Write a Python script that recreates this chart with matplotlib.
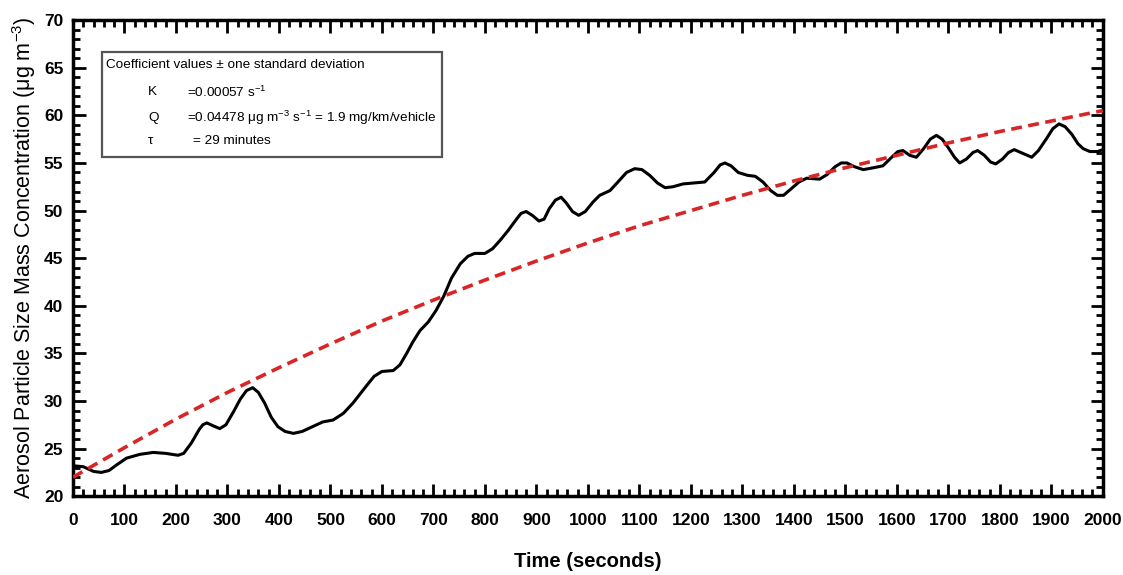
import matplotlib
matplotlib.use('Agg')
import matplotlib.pyplot as plt
from matplotlib.patches import Rectangle
from matplotlib.ticker import MultipleLocator

plt.rcParams['font.family'] = ['Liberation Sans', 'DejaVu Sans']
plt.rcParams['mathtext.fontset'] = 'custom'
plt.rcParams['mathtext.rm'] = 'Liberation Sans'
plt.rcParams['axes.unicode_minus'] = False

# measured mass concentration (smoothed)
time_s = [0, 20, 40, 55, 70, 85, 104, 130, 156, 180, 204, 215, 230, 245, 252,
          260, 272, 285, 297, 312, 325, 337, 349, 360, 372, 385, 398, 412, 428,
          445, 465, 485, 505, 525, 544, 570, 585, 600, 622, 635, 648, 660, 674,
          690, 705, 720, 735, 752, 767, 780, 800, 815, 830, 845, 860, 870, 880,
          892, 905, 915, 925, 937, 948, 958, 970, 982, 995, 1010, 1023, 1043,
          1060, 1075, 1091, 1105, 1120, 1135, 1150, 1165, 1185, 1205, 1227,
          1245, 1257, 1266, 1278, 1292, 1310, 1325, 1340, 1355, 1368, 1380,
          1395, 1410, 1425, 1450, 1465, 1480, 1492, 1503, 1518, 1535, 1555,
          1573, 1590, 1602, 1612, 1625, 1638, 1652, 1665, 1677, 1688, 1700,
          1712, 1722, 1735, 1748, 1757, 1770, 1782, 1792, 1805, 1817, 1828,
          1845, 1862, 1875, 1890, 1903, 1915, 1927, 1940, 1952, 1962, 1975,
          1990, 2000]
conc = [23.2, 23.1, 22.6, 22.5, 22.7, 23.3, 24.0, 24.4, 24.6, 24.5, 24.3, 24.5,
        25.6, 27.0, 27.5, 27.7, 27.4, 27.1, 27.5, 28.9, 30.2, 31.1, 31.4, 30.9,
        29.8, 28.3, 27.3, 26.8, 26.6, 26.8, 27.3, 27.8, 28.0, 28.7, 29.8, 31.6,
        32.6, 33.1, 33.2, 33.8, 35.0, 36.2, 37.4, 38.3, 39.5, 41.0, 42.9, 44.4,
        45.2, 45.5, 45.5, 46.0, 46.9, 47.9, 49.0, 49.7, 49.9, 49.5, 48.9, 49.1,
        50.2, 51.1, 51.4, 50.8, 49.9, 49.5, 49.9, 50.9, 51.6, 52.1, 53.1, 54.0,
        54.4, 54.3, 53.7, 52.9, 52.4, 52.5, 52.8, 52.9, 53.0, 54.0, 54.8, 55.0,
        54.7, 54.0, 53.7, 53.6, 53.0, 52.1, 51.6, 51.6, 52.3, 53.0, 53.4, 53.3,
        53.8, 54.6, 55.0, 55.0, 54.6, 54.3, 54.5, 54.7, 55.6, 56.2, 56.3, 55.8,
        55.6, 56.5, 57.5, 57.9, 57.5, 56.6, 55.6, 55.0, 55.4, 56.1, 56.3, 55.8,
        55.1, 54.9, 55.4, 56.1, 56.4, 56.0, 55.6, 56.3, 57.5, 58.6, 59.1, 58.8,
        58.0, 57.0, 56.5, 56.2, 56.2, 56.4]

# box model fit
fit_t = list(range(0, 2001, 100))
fit_c = [22.0, 25.1, 28.1, 30.9, 33.5, 36.0, 38.4, 40.6, 42.7, 44.7, 46.6,
         48.4, 50.0, 51.6, 53.1, 54.5, 55.8, 57.1, 58.3, 59.4, 60.5]

fig = plt.figure(figsize=(11.23, 5.75), dpi=100)
ax = fig.add_axes([0.065, 0.137, 0.917, 0.828])

ax.plot(time_s, conc, color='black', lw=2.2, zorder=3)
ax.plot(fit_t, fit_c, color='#d92525', lw=2.6, dashes=(3, 1.8), zorder=4)

ax.set_xlim(0, 2000)
ax.set_ylim(20, 70)
ax.xaxis.set_major_locator(MultipleLocator(100))
ax.xaxis.set_minor_locator(MultipleLocator(20))
ax.yaxis.set_major_locator(MultipleLocator(5))
ax.yaxis.set_minor_locator(MultipleLocator(1))
ax.tick_params(which='both', direction='in', top=True, right=True,
               width=2, color='black')
ax.tick_params(which='major', length=9, labelsize=12.5)
ax.tick_params(axis='x', which='major', pad=12)
ax.tick_params(axis='y', which='major', pad=7)
ax.tick_params(which='minor', length=5)
for lab in ax.get_xticklabels() + ax.get_yticklabels():
    lab.set_fontweight('bold')
for sp in ax.spines.values():
    sp.set_linewidth(2.5)

ax.set_xlabel('Time (seconds)', fontsize=14.5, fontweight='bold', labelpad=17)
ax.set_ylabel('Aerosol Particle Size Mass Concentration (μg m$^{-3}$)',
              fontsize=15.5, labelpad=4)

# coefficient box
ax.add_patch(Rectangle((0.028, 0.712), 0.330, 0.221, transform=ax.transAxes,
                       fill=False, edgecolor='#555555', lw=1.6, zorder=5))
fs = 9.7
ax.text(0.032, 0.905, 'Coefficient values ± one standard deviation',
        transform=ax.transAxes, fontsize=fs, va='center')
ax.text(0.073, 0.849, 'K', transform=ax.transAxes, fontsize=fs, va='center')
ax.text(0.111, 0.849, '=0.00057 s$^{-1}$', transform=ax.transAxes,
        fontsize=fs, va='center')
ax.text(0.073, 0.794, 'Q', transform=ax.transAxes, fontsize=fs, va='center')
ax.text(0.111, 0.794, '=0.04478 μg m$^{-3}$ s$^{-1}$ = 1.9 mg/km/vehicle',
        transform=ax.transAxes, fontsize=fs, va='center')
ax.text(0.073, 0.746, 'τ', transform=ax.transAxes, fontsize=fs, va='center')
ax.text(0.117, 0.746, '= 29 minutes', transform=ax.transAxes,
        fontsize=fs, va='center')

fig.savefig('out.png', dpi=100)
